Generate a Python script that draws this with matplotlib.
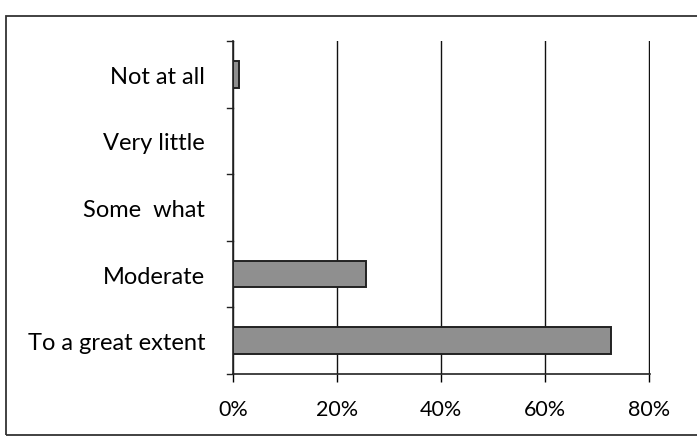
import matplotlib.pyplot as plt
from matplotlib.patches import Rectangle

# data
categories = ["Not at all", "Very little", "Some  what", "Moderate", "To a great extent"]
values = [1.2, 0.0, 0.0, 25.7, 72.8]
xticks = [0, 20, 40, 60, 80]
xlabels = ["0%", "20%", "40%", "60%", "80%"]

plt.rcParams["font.family"] = ["Lato", "DejaVu Sans"]

fig = plt.figure(figsize=(6.97, 4.39), dpi=100)
ax = fig.add_axes([0.334, 0.146, 0.599, 0.758])

# categories top to bottom
ypos = list(range(len(categories)))[::-1]
ax.barh(ypos, values, height=0.4, color="#8f8f8f", edgecolor="#222222", linewidth=1.4, zorder=3)

ax.set_xlim(0, 80.3)
ax.set_ylim(-0.5, len(categories) - 0.5)
ax.set_xticks(xticks)
ax.set_xticklabels(xlabels, fontsize=15.5)
ax.set_yticks(ypos)
ax.set_yticklabels(categories, fontsize=17)
ax.tick_params(axis="y", length=0, pad=20)
ax.tick_params(axis="x", length=6, width=1, pad=12, direction="out")

# y-axis boundary ticks
for b in [i - 0.5 for i in range(len(categories) + 1)]:
    ax.plot([-1.2, 0], [b, b], color="#222222", lw=1, clip_on=False, zorder=4)

ax.grid(axis="x", color="#111111", linewidth=1)
ax.set_axisbelow(True)
for s in ["top", "right"]:
    ax.spines[s].set_visible(False)
ax.spines["left"].set_color("#222222")
ax.spines["bottom"].set_color("#222222")
ax.spines["left"].set_linewidth(1.2)
ax.spines["bottom"].set_linewidth(1.2)

# outer chart frame
fig.patches.append(Rectangle((6 / 697, 3 / 439), 700 / 697, 419 / 439, transform=fig.transFigure,
                             fill=False, edgecolor="#333333", linewidth=1.3))

fig.savefig("out.png", dpi=100, facecolor="white")
